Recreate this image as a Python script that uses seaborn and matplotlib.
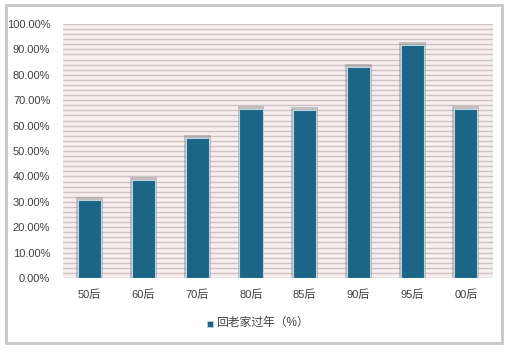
import matplotlib
matplotlib.use("Agg")
import matplotlib.pyplot as plt
import seaborn as sns
import pandas as pd
import numpy as np
from matplotlib.patches import Rectangle

categories = ["50后", "60后", "70后", "80后", "85后", "90后", "95后", "00后"]
values = [30.7, 38.6, 55.1, 66.5, 66.1, 83.1, 91.7, 66.5]
series_name = "回老家过年（%）"
yticks = [0, 10, 20, 30, 40, 50, 60, 70, 80, 90, 100]

sns.set_theme(style="white")
plt.rcParams['font.family'] = ['Liberation Sans', 'Noto Sans CJK SC', 'DejaVu Sans']

df = pd.DataFrame({"cat": categories, "val": values})

fig = plt.figure(figsize=(5.07, 3.52), dpi=100)
ax = fig.add_axes([0.124, 0.21, 0.848, 0.722])

bar_color = "#1b6587"
# shadow bars
sns.barplot(data=df, x="cat", y="val", color="#8a8686", width=0.50, ax=ax,
            saturation=1, alpha=0.45, zorder=2)
for p in ax.patches:
    p.set_height(p.get_height() + 1.3)
    p.set_edgecolor("none")
n_shadow = len(ax.patches)
sns.barplot(data=df, x="cat", y="val", color=bar_color, width=0.43, ax=ax,
            saturation=1, zorder=3)
for p in ax.patches[n_shadow:]:
    p.set_edgecolor("#b9d3e0")
    p.set_linewidth(0.8)

ax.set_facecolor("#f8eeef")
ax.set_ylim(0, 100)
ax.set_xlim(-0.5, len(categories) - 0.5)
ax.set_yticks(yticks)
ax.set_yticklabels([f"{v:.2f}%" for v in yticks], fontsize=8, color="#404040")
ax.set_yticks(np.arange(0, 101, 2), minor=True)
ax.tick_params(axis="x", labelsize=8, colors="#404040", length=0, pad=8)
ax.tick_params(axis="y", length=0, pad=9, which="both")
ax.grid(True, axis="y", which="both", color="#cdc3c3", linewidth=1.0, zorder=0)
ax.set_axisbelow(True)
for s in ax.spines.values():
    s.set_visible(False)
ax.set_xlabel("")
ax.set_ylabel("")

# legend
fig.patches.append(Rectangle((207 / 507, 1 - 327 / 352), 6 / 507, 6 / 352,
                             transform=fig.transFigure, facecolor=bar_color,
                             edgecolor="#b9d3e0", linewidth=0.6))
fig.text(216 / 507, 1 - 323 / 352, series_name, fontsize=8.5, color="#404040",
         va="center", ha="left")

# outer frame
fig.patches.append(Rectangle((6 / 507, 1 - 343 / 352), 496 / 507, 338 / 352,
                             transform=fig.transFigure, facecolor="none",
                             edgecolor="#c8c8c8", linewidth=2, zorder=-1))

fig.savefig("out.png", dpi=100)
